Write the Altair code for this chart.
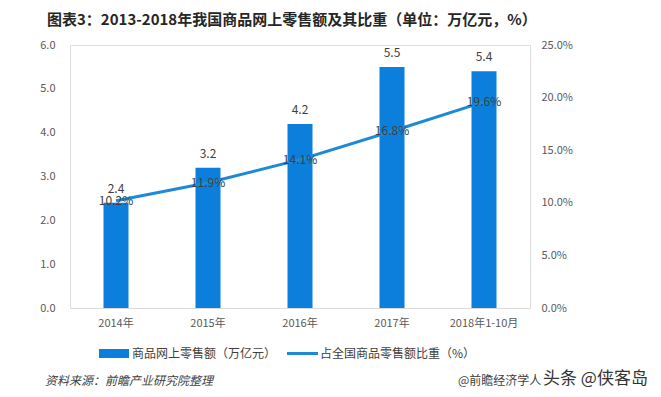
import altair as alt
import pandas as pd

years = ["2014年", "2015年", "2016年", "2017年", "2018年1-10月"]
sales = [2.4, 3.2, 4.2, 5.5, 5.4]
share = [10.2, 11.9, 14.1, 16.8, 19.6]
share_labels = ["10.2%", "11.9%", "14.1%", "16.8%", "19.6%"]

df = pd.DataFrame({"year": years, "sales": sales, "share": share, "share_label": share_labels})

FONT = "Noto Sans CJK SC"
BAR = "#0b7fdb"
LINE = "#1e8ad6"
GRAY = "#595959"
H = 263

x = alt.X("year:N", sort=years, title=None,
          scale=alt.Scale(paddingInner=0, paddingOuter=0),
          axis=alt.Axis(labelAngle=0, labelFont=FONT, labelFontSize=11, labelColor=GRAY,
                        ticks=False, domainColor="#d9d9d9", labelPadding=9))

y_left = alt.Y("sales:Q", title=None,
               scale=alt.Scale(domain=[0, 6]),
               axis=alt.Axis(values=[0, 1, 2, 3, 4, 5, 6], format=".1f", grid=False, domain=False,
                             ticks=False, labelFont=FONT, labelFontSize=11, labelColor=GRAY,
                             labelPadding=15))

y_right = alt.Y("share:Q", title=None,
                scale=alt.Scale(domain=[0, 25]),
                axis=alt.Axis(orient="right", values=[0, 5, 10, 15, 20, 25],
                              labelExpr="format(datum.value, '.1f') + '%'",
                              grid=False, domain=False, ticks=False, labelFont=FONT,
                              labelFontSize=11, labelColor=GRAY, labelPadding=11))

base = alt.Chart(df)

bars = base.mark_bar(color=BAR, size=25).encode(x=x, y=y_left)
bar_text = base.mark_text(baseline="bottom", dy=-7, font=FONT, fontSize=12, color="#404040").encode(
    x=x, y=y_left, text=alt.Text("sales:Q", format=".1f"))

line = base.mark_line(color=LINE, strokeWidth=3).encode(x=x, y=y_right)
line_text = base.mark_text(baseline="middle", font=FONT, fontSize=12, color="#404040").encode(
    x=x, y=y_right, text="share_label:N")

chart = alt.layer(alt.layer(bars, bar_text), alt.layer(line, line_text)).resolve_scale(y="independent")


def label(text, xv, yv, size=12, **kw):
    return alt.Chart(pd.DataFrame({"t": [text]})).mark_text(
        align="left", baseline="middle", font=FONT, fontSize=size, **kw
    ).encode(x=alt.value(xv), y=alt.value(yv), text="t:N")


title = label("图表3：2013-2018年我国商品网上零售额及其比重（单位：万亿元，%）", -23, -25, 15,
              fontWeight="bold", color="#262626")

legend_rect = alt.Chart(pd.DataFrame({"a": [0]})).mark_rect(color=BAR).encode(
    x=alt.value(29), x2=alt.value(59), y=alt.value(H + 41), y2=alt.value(H + 50))
legend_text1 = label("商品网上零售额（万亿元）", 62, H + 45.5, 12, color="#404040")
legend_line = alt.Chart(pd.DataFrame({"a": [0]})).mark_rule(color=LINE, strokeWidth=3).encode(
    x=alt.value(217), x2=alt.value(248), y=alt.value(H + 45.5))
legend_text2 = label("占全国商品零售额比重（%）", 250, H + 45.5, 12, color="#404040")

src = label("资料来源：前瞻产业研究院整理", -25, H + 73, 12, fontStyle="italic", color="#404040")
src2 = label("@前瞻经济学人", 388, H + 73, 12, color="#404040")
wm = label("头条 @侠客岛", 473, H + 71, 17, color="#333333")

full = alt.layer(
    chart, title, legend_rect, legend_text1, legend_line, legend_text2, src, src2, wm,
).resolve_scale(y="independent").properties(
    width=460, height=H,
    autosize=alt.AutoSizeParams(type="none"),
    padding={"left": 62, "top": 37, "right": 120, "bottom": 80},
).configure_view(stroke=None).configure(background="white")

full.save("out.html", embed_options={"renderer": "svg", "actions": False})
